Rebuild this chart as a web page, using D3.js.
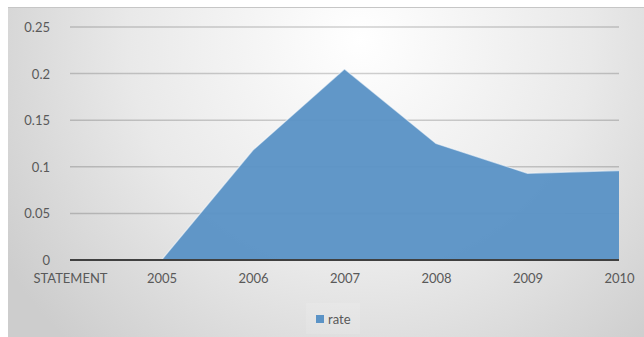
<!DOCTYPE html>
<html>
<head>
<meta charset="utf-8">
<script src="https://cdn.jsdelivr.net/npm/d3@7"></script>
<style>
  body { margin: 0; background: #fff; }
  text { font-family: Lato, "Open Sans", sans-serif; fill: #595959; }
</style>
</head>
<body>
<div id="chart"></div>
<script>
// chart data
const categories = ['STATEMENT', '2005', '2006', '2007', '2008', '2009', '2010'];
const rate = [0, 0, 0.118, 0.205, 0.125, 0.093, 0.096];
const yTicks = [0, 0.05, 0.1, 0.15, 0.2, 0.25];
const seriesName = 'rate';

let width = 644,
    height = 337,
    margin = {top: 27, left: 70, right: 25, bottom: 77};

let svg = d3.select('#chart')
    .append('svg')
    .attr('width', width)
    .attr('height', height);

// background gradient
let defs = svg.append('defs');
let grad = defs.append('radialGradient')
    .attr('id', 'bg')
    .attr('gradientUnits', 'userSpaceOnUse')
    .attr('cx', 360).attr('cy', 40).attr('r', 420);
grad.append('stop').attr('offset', '0%').attr('stop-color', '#ffffff');
grad.append('stop').attr('offset', '55%').attr('stop-color', '#e9e9e9');
grad.append('stop').attr('offset', '100%').attr('stop-color', '#cdcdcd');

svg.append('rect')
    .attr('x', 8).attr('y', 7)
    .attr('width', width - 8).attr('height', height - 7)
    .attr('fill', 'url(#bg)');

svg.append('line')
    .attr('x1', 8).attr('x2', width)
    .attr('y1', 7.5).attr('y2', 7.5)
    .attr('stroke', '#c6c6c6');

// scales
let x = d3.scalePoint()
    .domain(categories)
    .range([margin.left, width - margin.right]);

let y = d3.scaleLinear()
    .domain([0, 0.25])
    .range([height - margin.bottom, margin.top]);

let data = categories.map((c, i) => ({cat: c, value: rate[i]}));

// gridlines (behind the area)
svg.append('g')
    .selectAll('line')
    .data(yTicks.filter(d => d > 0))
    .join('line')
    .attr('x1', x.range()[0])
    .attr('x2', x.range()[1])
    .attr('y1', d => y(d))
    .attr('y2', d => y(d))
    .attr('stroke', 'rgba(0,0,0,0.18)')
    .attr('stroke-width', 1.5);

// area
let area = d3.area()
    .x(d => x(d.cat))
    .y0(y(0))
    .y1(d => y(d.value));

svg.append('path')
    .datum(data)
    .attr('d', area)
    .attr('fill', '#5b93c6')
    .attr('fill-opacity', 0.96);

let line = d3.line()
    .x(d => x(d.cat))
    .y(d => y(d.value));

svg.append('path')
    .datum(data.slice(1))
    .attr('d', line)
    .attr('fill', 'none')
    .attr('stroke', 'rgba(255,255,255,0.55)')
    .attr('stroke-width', 1.2);

// y axis
let yAxis = svg.append('g')
    .attr('transform', `translate(${margin.left - 17},0)`)
    .call(d3.axisLeft(y).tickValues(yTicks).tickSize(0).tickFormat(d => d3.format('')(d)));
yAxis.select('.domain').remove();
yAxis.selectAll('text').style('font-size', '13px').attr('dy', '0.35em');

// x axis
svg.append('line')
    .attr('x1', x.range()[0])
    .attr('x2', x.range()[1])
    .attr('y1', y(0))
    .attr('y2', y(0))
    .attr('stroke', '#404040')
    .attr('stroke-width', 2.2);

let xAxis = svg.append('g')
    .attr('transform', `translate(0,${y(0)})`)
    .call(d3.axisBottom(x).tickSize(0).tickPadding(14));
xAxis.select('.domain').remove();
xAxis.selectAll('text').style('font-size', '13px');

// legend
let legend = svg.append('g').attr('transform', 'translate(306,303)');
legend.append('rect')
    .attr('width', 54).attr('height', 31)
    .attr('fill', 'rgba(255,255,255,0.12)');
legend.append('rect')
    .attr('x', 10).attr('y', 12)
    .attr('width', 8).attr('height', 8)
    .attr('fill', '#5b93c6');
legend.append('text')
    .attr('x', 22).attr('y', 16)
    .attr('dy', '0.35em')
    .style('font-size', '13px')
    .text(seriesName);
</script>
</body>
</html>
